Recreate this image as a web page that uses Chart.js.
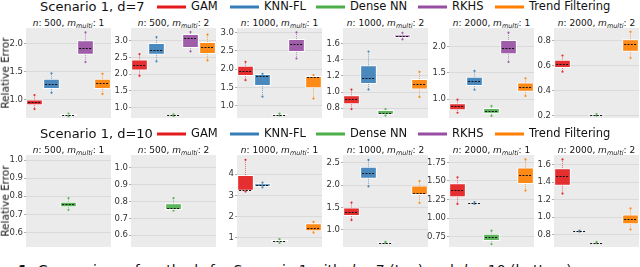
<!DOCTYPE html>
<html>
<head>
<meta charset="utf-8">
<title>Scenario 1 comparison</title>
<script src="https://cdn.jsdelivr.net/npm/chart.js@4"></script>
<style>
  body { margin: 0; width: 640px; height: 267px; overflow: hidden; background: #fff;
         font-family: "DejaVu Sans", sans-serif; color: #111; position: relative; }
  .abs { position: absolute; }
  .rowtitle { font-size: 13px; white-space: nowrap; transform: translateY(-50%); }
  .leg { font-size: 11.5px; white-space: nowrap; transform: translateY(-50%); }
  .legline { height: 3px; transform: translateY(-50%); }
  .ptitle { font-size: 9px; white-space: nowrap; text-align: center; transform: translateY(-50%); }
  .ptitle sub { font-size: 6.5px; vertical-align: -2px; }
  .ylab { font-size: 10.5px; line-height: 1; white-space: nowrap; transform: translate(-50%, -50%) rotate(-90deg); }
  .caption { font-size: 14px; white-space: nowrap; }
</style>
</head>
<body>
<script>
// methods, colours
const methods = ['GAM', 'KNN-FL', 'Dense NN', 'RKHS', 'Trend Filtering'];
const colors = ['#e41a1c', '#377eb8', '#4daf4a', '#984ea3', '#ff7f00'];
const nValues = [500, 500, 1000, 1000, 2000, 2000];
const mValues = [1, 2, 1, 2, 1, 2];

// each method: [low whisker, q1, median, q3, high whisker], null = not shown
// d = 7
const d7_n500_m1 = [[0.83, 0.90, 0.95, 1.00, 1.08], [1.12, 1.19, 1.28, 1.37, 1.47], [0.70, 0.71, 0.725, 0.74, 0.75], [1.67, 1.80, 1.93, 2.06, 2.20], [1.10, 1.19, 1.29, 1.37, 1.46]];
const d7_n500_m2 = [[1.95, 2.11, 2.28, 2.44, 2.60], [2.38, 2.58, 2.73, 2.93, 3.11], [0.75, 0.76, 0.77, 0.79, 0.80], [2.68, 2.78, 3.08, 3.20, 3.26], [2.41, 2.60, 2.80, 2.96, 3.18]];
const d7_n1000_m1 = [[1.70, 1.81, 1.95, 2.09, 2.20], [1.25, 1.54, 1.80, 1.87, 1.87], [0.74, 0.75, 0.76, 0.78, 0.79], [2.29, 2.47, 2.68, 2.82, 3.00], [1.20, 1.48, 1.78, 1.81, 1.84]];
const d7_n1000_m2 = [[0.79, 0.85, 0.91, 0.96, 1.03], [1.03, 1.10, 1.17, 1.33, 1.50], [0.71, 0.72, 0.74, 0.78, 0.79], [1.65, 1.67, 1.69, 1.71, 1.73], [0.94, 1.03, 1.10, 1.16, 1.25]];
const d7_n2000_m1 = [[0.74, 0.79, 0.86, 0.92, 0.99], [1.18, 1.25, 1.35, 1.43, 1.54], [0.68, 0.72, 0.78, 0.83, 0.87], [1.71, 1.86, 1.98, 2.13, 2.27], [1.06, 1.14, 1.23, 1.32, 1.40]];
const d7_n2000_m2 = [[0.55, 0.58, 0.61, 0.647, 0.68], null, [0.198, 0.2, 0.205, 0.21, 0.212], null, [0.66, 0.71, 0.77, 0.81, 0.87]];
// d = 10
const d10_n500_m1 = [null, null, [0.725, 0.74, 0.755, 0.77, 0.79], null, null];
const d10_n500_m2 = [null, null, [0.745, 0.75, 0.76, 0.79, 0.82], null, null];
const d10_n1000_m1 = [[3.18, 3.22, 3.25, 3.97, 4.68], [3.38, 3.41, 3.49, 3.57, 3.60], [0.75, 0.78, 0.84, 0.89, 0.93], null, [1.24, 1.31, 1.47, 1.68, 1.75]];
const d10_n1000_m2 = [[1.22, 1.31, 1.41, 1.50, 1.61], [1.97, 2.14, 2.28, 2.41, 2.56], [0.71, 0.715, 0.72, 0.73, 0.735], null, [1.60, 1.78, 1.83, 1.99, 2.09]];
const d10_n2000_m1 = [[1.19, 1.28, 1.38, 1.47, 1.55], [1.19, 1.195, 1.20, 1.21, 1.215], [0.65, 0.69, 0.74, 0.79, 0.83], null, [1.37, 1.46, 1.58, 1.68, 1.79]];
const d10_n2000_m2 = [[1.27, 1.36, 1.47, 1.56, 1.66], [0.835, 0.838, 0.84, 0.845, 0.848], [0.705, 0.708, 0.71, 0.715, 0.718], null, [0.86, 0.92, 0.98, 1.03, 1.10]];

// y axes
const d7Min = [0.67, 0.69, 0.67, 0.68, 0.64, 0.18];
const d7Max = [2.28, 3.38, 3.12, 1.79, 2.36, 0.90];
const d7Ticks = [[1.0, 1.5, 2.0], [1.0, 1.5, 2.0, 2.5, 3.0], [1.0, 1.5, 2.0, 2.5, 3.0], [0.8, 1.0, 1.2, 1.4, 1.6], [1.0, 1.5, 2.0], [0.2, 0.4, 0.6, 0.8]];
const d7Dec = [1, 1, 1, 1, 1, 1];
const d10Min = [0.52, 0.53, 0.56, 0.62, 0.61, 0.66];
const d10Max = [1.028, 1.076, 4.91, 2.67, 1.85, 1.71];
const d10Ticks = [[0.6, 0.7, 0.8, 0.9, 1.0], [0.6, 0.7, 0.8, 0.9, 1.0], [1, 2, 3, 4], [1.0, 1.5, 2.0, 2.5], [0.75, 1.0, 1.25, 1.5, 1.75], [0.8, 1.0, 1.2, 1.4, 1.6]];
const d10Dec = [1, 1, 0, 1, 2, 1];

const d7Panels = [d7_n500_m1, d7_n500_m2, d7_n1000_m1, d7_n1000_m2, d7_n2000_m1, d7_n2000_m2];
const d10Panels = [d10_n500_m1, d10_n500_m2, d10_n1000_m1, d10_n1000_m2, d10_n2000_m1, d10_n2000_m2];

// layout
const panelX = [26, 131, 237, 343, 449, 554];
const panelW = 85;
const AX = 22, PAD = 8;

function addDiv(cls, html, left, top, extra) {
  const d = document.createElement('div');
  d.className = 'abs ' + cls;
  d.innerHTML = html;
  d.style.left = left + 'px';
  d.style.top = top + 'px';
  if (extra) Object.assign(d.style, extra);
  document.body.appendChild(d);
  return d;
}

const bgPlugin = {
  id: 'panelBg',
  beforeDraw(c) {
    const a = c.chartArea, ctx = c.ctx;
    ctx.save();
    ctx.fillStyle = '#ebebeb';
    ctx.fillRect(a.left, a.top, a.right - a.left, a.bottom - a.top);
    ctx.restore();
  }
};

// whiskers, end points and dashed medians
const boxPlugin = {
  id: 'boxExtras',
  afterDatasetsDraw(c) {
    const ctx = c.ctx, y = c.scales.y;
    const meta = c.getDatasetMeta(0);
    const stats = c.data.datasets[0].stats;
    stats.forEach((s, i) => {
      if (!s) return;
      const bar = meta.data[i];
      const x = bar.x, hw = bar.width / 2;
      ctx.save();
      ctx.strokeStyle = colors[i];
      ctx.globalAlpha = 0.6;
      ctx.lineWidth = 1;
      ctx.setLineDash([1, 1]);
      ctx.beginPath();
      ctx.moveTo(x, y.getPixelForValue(s[3]));
      ctx.lineTo(x, y.getPixelForValue(s[4]));
      ctx.moveTo(x, y.getPixelForValue(s[1]));
      ctx.lineTo(x, y.getPixelForValue(s[0]));
      ctx.stroke();
      ctx.globalAlpha = 0.9;
      ctx.setLineDash([]);
      ctx.fillStyle = colors[i];
      [s[0], s[4]].forEach(v => {
        ctx.beginPath();
        ctx.arc(x, y.getPixelForValue(v), 1.1, 0, Math.PI * 2);
        ctx.fill();
      });
      ctx.globalAlpha = 1;
      ctx.strokeStyle = '#111';
      ctx.setLineDash([2, 1.3]);
      const ym = Math.round(y.getPixelForValue(s[2])) + 0.5;
      ctx.beginPath();
      ctx.moveTo(x - hw + 2, ym);
      ctx.lineTo(x + hw - 2, ym);
      ctx.stroke();
      ctx.restore();
    });
  }
};

function makePanel(left, top, h, stats, yMin, yMax, ticks, dec) {
  const cv = document.createElement('canvas');
  cv.width = panelW + AX;
  cv.height = h + 2 * PAD;
  cv.className = 'abs';
  cv.style.left = (left - AX) + 'px';
  cv.style.top = (top - PAD) + 'px';
  document.body.appendChild(cv);
  new Chart(cv, {
    type: 'bar',
    data: {
      labels: methods,
      datasets: [{
        data: stats.map(s => s ? [s[1], s[3]] : null),
        stats: stats,
        backgroundColor: colors.map(c => c + 'e6'),
        borderColor: '#ffffff',
        borderWidth: 1,
        borderSkipped: false,
        barPercentage: 0.98,
        categoryPercentage: 1
      }]
    },
    options: {
      responsive: false,
      animation: false,
      devicePixelRatio: 1,
      layout: { padding: { top: PAD, bottom: PAD, left: 0, right: 0 } },
      plugins: { legend: { display: false }, tooltip: { enabled: false } },
      scales: {
        x: { display: false },
        y: {
          min: yMin, max: yMax,
          afterFit: s => { s.width = AX; },
          afterBuildTicks: s => { s.ticks = ticks.map(v => ({ value: v })); },
          ticks: {
            font: { size: 8.5, family: 'DejaVu Sans' },
            color: '#333',
            padding: 1,
            callback: v => Number(v).toFixed(dec)
          },
          grid: { color: '#d6d6d6', lineWidth: 0.8, tickLength: 2, tickColor: '#999' },
          border: { display: false }
        }
      }
    },
    plugins: [bgPlugin, boxPlugin]
  });
}

function makeRow(titleText, rowTop, titleY, ptitleY, h, panels, mins, maxs, ticks, decs) {
  addDiv('rowtitle', titleText, 40, titleY);
  const legX = [157, 230, 316, 418, 495];
  methods.forEach((m, i) => {
    addDiv('legline', '', legX[i], titleY + 1, { width: '29px', background: colors[i] });
    addDiv('leg', m, legX[i] + 34, titleY);
  });
  panels.forEach((st, k) => {
    addDiv('ptitle', '<i>n</i>: ' + nValues[k] + ', <i>m</i><sub><i>multi</i></sub>: ' + mValues[k],
      panelX[k], ptitleY, { width: panelW + 'px' });
    makePanel(panelX[k], rowTop, h, st, mins[k], maxs[k], ticks[k], decs[k]);
  });
  addDiv('ylab', 'Relative Error', 5, rowTop + h / 2);
}

makeRow('Scenario 1, d=7', 28, 6, 24, 90, d7Panels, d7Min, d7Max, d7Ticks, d7Dec);
makeRow('Scenario 1, d=10', 155, 133, 151, 92, d10Panels, d10Min, d10Max, d10Ticks, d10Dec);
addDiv('caption', '<b>1:</b> Comparison of methods for Scenario 1 with <i>d</i> = 7 (top) and <i>d</i> = 10 (bottom)',
  18, 262);
</script>
</body>
</html>
